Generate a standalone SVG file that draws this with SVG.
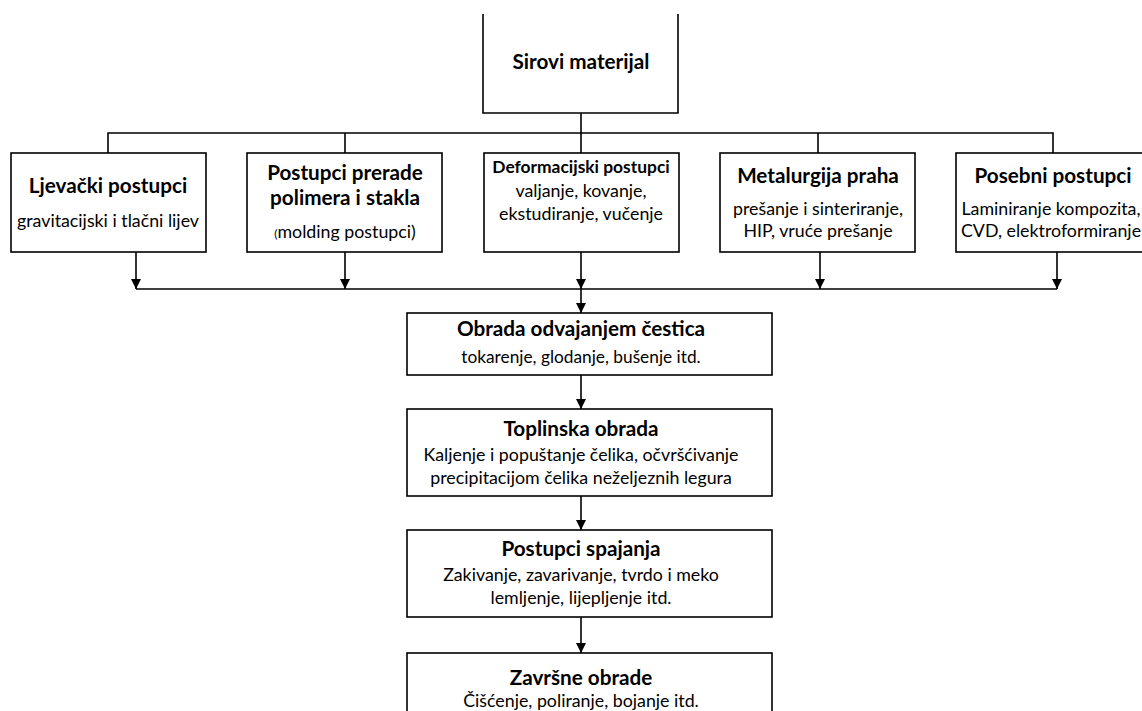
<svg xmlns="http://www.w3.org/2000/svg" width="1142" height="711" viewBox="0 0 1142 711">
<defs>
<marker id="arr" viewBox="0 0 10 10" refX="10" refY="5" markerWidth="10" markerHeight="10" markerUnits="userSpaceOnUse" orient="auto">
<path d="M0,0 L10,5 L0,10 Z" fill="#000"/>
</marker>
<style>
.box{fill:#fff;stroke:#000;stroke-width:1.6}
.ln{fill:none;stroke:#000;stroke-width:1.6}
text{font-family:Lato,"Liberation Sans",sans-serif;fill:#000;text-anchor:middle}
.t{font-weight:bold;font-size:20.7px}
.s{font-size:17.8px}
</style>
</defs>
<rect width="1142" height="711" fill="#fff"/>
<g id="connectors">
<path class="ln" d="M581,113 V153 M108,153 V133 H1053 V153 M345,133 V153 M818,133 V153"/>
<path class="ln" d="M136,289 H1057"/>
<path class="ln" d="M136,252 V289" marker-end="url(#arr)"/>
<path class="ln" d="M345,252 V289" marker-end="url(#arr)"/>
<path class="ln" d="M581,252 V289" marker-end="url(#arr)"/>
<path class="ln" d="M820,252 V289" marker-end="url(#arr)"/>
<path class="ln" d="M1057,252 V289" marker-end="url(#arr)"/>
<path class="ln" d="M581,289 V313" marker-end="url(#arr)"/>
<path class="ln" d="M581,375 V409" marker-end="url(#arr)"/>
<path class="ln" d="M581,496 V530" marker-end="url(#arr)"/>
<path class="ln" d="M581,617 V653" marker-end="url(#arr)"/>
</g>
<g id="sirovi">
<path class="box" d="M483,14 V113 H678 V14"/>
<text class="t" x="581" y="69">Sirovi materijal</text>
</g>
<g id="ljevacki">
<rect class="box" x="11" y="153" width="195" height="99"/>
<text class="t" x="108" y="193">Ljevački postupci</text>
<text class="s" x="108" y="227">gravitacijski i tlačni lijev</text>
</g>
<g id="prerada">
<rect class="box" x="247" y="153" width="195" height="99"/>
<text class="t" x="345" y="180">Postupci prerade</text>
<text class="t" x="345" y="205">polimera i stakla</text>
<text class="s" x="345" y="238"><tspan font-size="12px">(</tspan>molding postupci)</text>
</g>
<g id="deformacijski">
<rect class="box" x="484" y="153" width="195" height="99"/>
<text class="t" x="581" y="173" style="font-size:17.4px">Deformacijski postupci</text>
<text class="s" x="581" y="197">valjanje, kovanje,</text>
<text class="s" x="581" y="220">ekstudiranje, vučenje</text>
</g>
<g id="metalurgija">
<rect class="box" x="720" y="153" width="195" height="99"/>
<text class="t" x="818" y="183">Metalurgija praha</text>
<text class="s" x="818" y="215">prešanje i sinteriranje,</text>
<text class="s" x="818" y="237">HIP, vruće prešanje</text>
</g>
<g id="posebni">
<rect class="box" x="956" y="153" width="195" height="99"/>
<text class="t" x="1053" y="183">Posebni postupci</text>
<text class="s" x="1051" y="215">Laminiranje kompozita,</text>
<text class="s" x="1051" y="237">CVD, elektroformiranje</text>
</g>
<g id="obrada">
<rect class="box" x="407" y="313" width="365" height="62"/>
<text class="t" x="581" y="336">Obrada odvajanjem čestica</text>
<text class="s" x="581" y="363" style="font-size:17.3px">tokarenje, glodanje, bušenje itd.</text>
</g>
<g id="toplinska">
<rect class="box" x="407" y="409" width="365" height="87"/>
<text class="t" x="581" y="436">Toplinska obrada</text>
<text class="s" x="581" y="461">Kaljenje i popuštanje čelika, očvršćivanje</text>
<text class="s" x="581" y="484">precipitacijom čelika neželjeznih legura</text>
</g>
<g id="spajanje">
<rect class="box" x="407" y="530" width="365" height="87"/>
<text class="t" x="581" y="556">Postupci spajanja</text>
<text class="s" x="581" y="581">Zakivanje, zavarivanje, tvrdo i meko</text>
<text class="s" x="581" y="604">lemljenje, lijepljenje itd.</text>
</g>
<g id="zavrsne">
<rect class="box" x="407" y="653" width="365" height="80"/>
<text class="t" x="581" y="685">Završne obrade</text>
<text class="s" x="581" y="707">Čišćenje, poliranje, bojanje itd.</text>
</g>
</svg>
